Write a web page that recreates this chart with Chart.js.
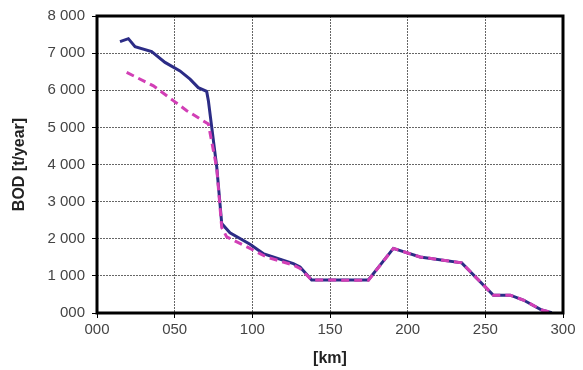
<!DOCTYPE html>
<html>
<head>
<meta charset="utf-8">
<script src="https://cdn.jsdelivr.net/npm/chart.js@4"></script>
<style>
  html, body { margin: 0; padding: 0; background: #fff; }
  #wrap { width: 583px; height: 370px; }
</style>
</head>
<body>
<div id="wrap"><canvas id="bodChart"></canvas></div>
<script>
// --- Data ---
const kmSolid  = [14.8, 20.2, 24.5, 35.2, 43.8, 53.4, 59.9, 65.2, 70.6, 71.7, 77.1, 80.3, 85.6, 98.5, 107, 126.4, 130.7, 138.2, 174.7, 190.8, 208, 234.8, 255.2, 266, 274.5, 286.3, 292.8];
const bodSolid = [7310, 7390, 7170, 7040, 6750, 6520, 6300, 6070, 5970, 5720, 3930, 2410, 2160, 1850, 1600, 1330, 1240, 890, 890, 1740, 1510, 1350, 480, 480, 350, 80, 10];

const kmDashed  = [19.1, 36.3, 49.1, 57.8, 71.7, 77.1, 80.3, 83.5, 98.5, 109, 126.4, 130.7, 138.2, 174.7, 190.8, 208, 234.8, 255.2, 266, 274.5, 286.3, 292.8];
const bodDashed = [6480, 6120, 5720, 5450, 5090, 3900, 2300, 2050, 1740, 1510, 1290, 1200, 890, 880, 1740, 1510, 1350, 480, 480, 350, 80, 10];

const xTickLabels = ['000', '050', '100', '150', '200', '250', '300'];
const yTickLabels = ['000', '1 000', '2 000', '3 000', '4 000', '5 000', '6 000', '7 000', '8 000'];

const toPoints = (xs, ys) => xs.map((x, i) => ({ x: x, y: ys[i] }));

// Frame around the plot area
const frameBox = {
    id: 'frameBox',
    afterDraw(chart) {
        const { ctx, chartArea: a } = chart;
        ctx.save();
        ctx.strokeStyle = '#000';
        ctx.lineWidth = 3;
        ctx.strokeRect(a.left, a.top, a.right - a.left, a.bottom - a.top);
        ctx.restore();
    }
};

const tickFont = { family: 'Liberation Sans, Arial, sans-serif', size: 15 };
const titleFont = { family: 'Liberation Sans, Arial, sans-serif', size: 16, weight: 'bold' };

new Chart(document.getElementById('bodChart'), {
    type: 'line',
    data: {
        datasets: [
            {
                label: 'dashed',
                data: toPoints(kmDashed, bodDashed),
                borderColor: '#d23fb6',
                borderWidth: 3,
                borderDash: [8, 5],
                pointRadius: 0,
                tension: 0,
                order: 1
            },
            {
                label: 'solid',
                data: toPoints(kmSolid, bodSolid),
                borderColor: '#2c2c86',
                borderWidth: 3,
                pointRadius: 0,
                tension: 0,
                order: 2
            }
        ]
    },
    options: {
        responsive: true,
        maintainAspectRatio: false,
        animation: false,
        layout: { padding: { top: 9, right: 20, left: 10, bottom: 0 } },
        plugins: {
            legend: { display: false },
            tooltip: { enabled: false }
        },
        scales: {
            x: {
                type: 'linear',
                min: 0,
                max: 300,
                afterBuildTicks: (s) => { s.ticks = xTickLabels.map((t, i) => ({ value: i * 50 })); },
                ticks: {
                    color: '#444',
                    font: tickFont,
                    padding: 3,
                    maxRotation: 0,
                    callback: (v, i) => xTickLabels[i]
                },
                grid: { color: '#666', lineWidth: 1, tickLength: 5, tickColor: '#000' },
                border: { display: false, dash: [2, 1] },
                title: { display: true, text: '[km]', color: '#222', font: titleFont, padding: { top: 2, bottom: 2 } },
                afterFit: (s) => { s.height = 57; }
            },
            y: {
                min: 0,
                max: 8000,
                afterBuildTicks: (s) => { s.ticks = yTickLabels.map((t, i) => ({ value: i * 1000 })); },
                ticks: {
                    color: '#444',
                    font: tickFont,
                    padding: 7,
                    callback: (v, i) => yTickLabels[i]
                },
                grid: { color: '#666', lineWidth: 1, tickLength: 5, tickColor: '#000' },
                border: { display: false, dash: [2, 1] },
                title: { display: true, text: 'BOD [t/year]', color: '#222', font: titleFont, padding: { top: 0, bottom: 4 } },
                afterFit: (s) => { s.width = 87; }
            }
        }
    },
    plugins: [frameBox]
});
</script>
</body>
</html>
